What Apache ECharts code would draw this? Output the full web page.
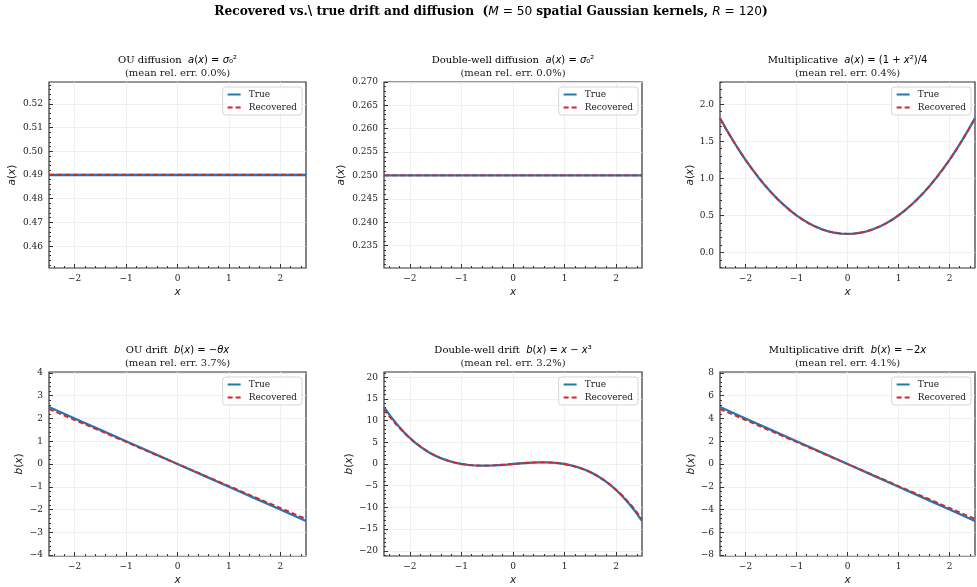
<!DOCTYPE html>
<html>
<head>
<meta charset="utf-8">
<script src="https://cdn.jsdelivr.net/npm/echarts@6/dist/echarts.min.js"></script>
<style>html,body{margin:0;padding:0;background:#fff;}#c{width:977px;height:587px;}</style>
</head>
<body>
<div id="c"></div>
<script>
// ---------------- data ----------------
const xCoarse = [-2.5, -2, -1.5, -1, -0.5, 0, 0.5, 1, 1.5, 2, 2.5];
const xFine = [-2.5, -2.375, -2.25, -2.125, -2, -1.875, -1.75, -1.625, -1.5, -1.375, -1.25, -1.125, -1,
  -0.875, -0.75, -0.625, -0.5, -0.375, -0.25, -0.125, 0, 0.125, 0.25, 0.375, 0.5, 0.625, 0.75, 0.875,
  1, 1.125, 1.25, 1.375, 1.5, 1.625, 1.75, 1.875, 2, 2.125, 2.25, 2.375, 2.5];

const ouDiffTrue = [0.49, 0.49, 0.49, 0.49, 0.49, 0.49, 0.49, 0.49, 0.49, 0.49, 0.49];
const ouDiffRec  = [0.4901, 0.4901, 0.4901, 0.4901, 0.4901, 0.4901, 0.4901, 0.4901, 0.4901, 0.4901, 0.4901];

const dwDiffTrue = [0.25, 0.25, 0.25, 0.25, 0.25, 0.25, 0.25, 0.25, 0.25, 0.25, 0.25];
const dwDiffRec  = [0.25, 0.25, 0.25, 0.25, 0.25, 0.25, 0.25, 0.25, 0.25, 0.25, 0.25];

const mulDiffTrue = [1.8125, 1.6602, 1.5156, 1.3789, 1.25, 1.1289, 1.0156, 0.9102, 0.8125, 0.7227, 0.6406,
  0.5664, 0.5, 0.4414, 0.3906, 0.3477, 0.3125, 0.2852, 0.2656, 0.2539, 0.25, 0.2539, 0.2656, 0.2852,
  0.3125, 0.3477, 0.3906, 0.4414, 0.5, 0.5664, 0.6406, 0.7227, 0.8125, 0.9102, 1.0156, 1.1289, 1.25,
  1.3789, 1.5156, 1.6602, 1.8125];
const mulDiffRec = [1.805, 1.655, 1.513, 1.378, 1.251, 1.131, 1.018, 0.912, 0.814, 0.724, 0.641,
  0.566, 0.499, 0.440, 0.389, 0.346, 0.311, 0.284, 0.265, 0.254, 0.251, 0.254, 0.266, 0.286,
  0.313, 0.348, 0.391, 0.442, 0.501, 0.567, 0.641, 0.722, 0.811, 0.909, 1.014, 1.127, 1.248,
  1.377, 1.514, 1.659, 1.810];

const ouDriftTrue = [2.5, 2, 1.5, 1, 0.5, 0, -0.5, -1, -1.5, -2, -2.5];
const ouDriftRec  = [2.41, 1.93, 1.45, 0.965, 0.48, 0, -0.48, -0.965, -1.45, -1.93, -2.41];

const dwDriftTrue = [13.125, 11.021, 9.141, 7.471, 6.0, 4.717, 3.609, 2.666, 1.875, 1.225, 0.703,
  0.299, 0, -0.205, -0.328, -0.381, -0.375, -0.322, -0.234, -0.123, 0, 0.123, 0.234, 0.322, 0.375,
  0.381, 0.328, 0.205, 0, -0.299, -0.703, -1.225, -1.875, -2.666, -3.609, -4.717, -6.0, -7.471,
  -9.141, -11.021, -13.125];
const dwDriftRec = [12.6, 10.65, 8.9, 7.33, 5.93, 4.69, 3.6, 2.67, 1.89, 1.24, 0.72,
  0.31, 0.01, -0.2, -0.33, -0.38, -0.37, -0.32, -0.23, -0.12, 0, 0.12, 0.23, 0.32, 0.37,
  0.38, 0.33, 0.2, -0.01, -0.31, -0.72, -1.24, -1.89, -2.67, -3.6, -4.69, -5.93, -7.33,
  -8.9, -10.68, -12.7];

const mulDriftTrue = [5, 4, 3, 2, 1, 0, -1, -2, -3, -4, -5];
const mulDriftRec  = [4.82, 3.86, 2.89, 1.93, 0.96, 0, -0.96, -1.93, -2.89, -3.86, -4.82];

const xTicks = [-2, -1, 0, 1, 2];
const yTicksOuDiff = [0.46, 0.47, 0.48, 0.49, 0.50, 0.51, 0.52];
const yTicksDwDiff = [0.235, 0.240, 0.245, 0.250, 0.255, 0.260, 0.265, 0.270];
const yTicksMulDiff = [0.0, 0.5, 1.0, 1.5, 2.0];
const yTicksOuDrift = [-4, -3, -2, -1, 0, 1, 2, 3, 4];
const yTicksDwDrift = [-20, -15, -10, -5, 0, 5, 10, 15, 20];
const yTicksMulDrift = [-8, -6, -4, -2, 0, 2, 4, 6, 8];

const titles = [
  ['OU diffusion  ', '{i|a}{m|(}{i|x}{m|) = }{i|σ}{m|₀²}', '(mean rel. err. 0.0%)'],
  ['Double-well diffusion  ', '{i|a}{m|(}{i|x}{m|) = }{i|σ}{m|₀²}', '(mean rel. err. 0.0%)'],
  ['Multiplicative  ', '{i|a}{m|(}{i|x}{m|) = (1 + }{i|x}{m|²)/4}', '(mean rel. err. 0.4%)'],
  ['OU drift  ', '{i|b}{m|(}{i|x}{m|) = −}{i|θx}', '(mean rel. err. 3.7%)'],
  ['Double-well drift  ', '{i|b}{m|(}{i|x}{m|) = }{i|x}{m| − }{i|x}{m|³}', '(mean rel. err. 3.2%)'],
  ['Multiplicative drift  ', '{i|b}{m|(}{i|x}{m|) = −2}{i|x}', '(mean rel. err. 4.1%)']
];

// ---------------- layout / style ----------------
const SERIF = 'DejaVu Serif';
const SANS = 'DejaVu Sans';
const grids = [
  {left: 49, top: 82, width: 257, height: 186},
  {left: 384, top: 82, width: 258, height: 186},
  {left: 720, top: 82, width: 255, height: 186},
  {left: 49, top: 372, width: 257, height: 187},
  {left: 384, top: 372, width: 258, height: 187},
  {left: 720, top: 372, width: 255, height: 187}
];
const panels = [
  {x: xCoarse, t: ouDiffTrue, r: ouDiffRec, yMin: 0.4508, yMax: 0.5292, ticks: yTicksOuDiff, step: 0.01, dec: 2, yname: 'a', gap: 31},
  {x: xCoarse, t: dwDiffTrue, r: dwDiffRec, yMin: 0.2302, yMax: 0.2700, ticks: yTicksDwDiff, step: 0.005, dec: 3, yname: 'a', gap: 37},
  {x: xFine, t: mulDiffTrue, r: mulDiffRec, yMin: -0.21, yMax: 2.30, ticks: yTicksMulDiff, step: 0.5, dec: 1, yname: 'a', gap: 24},
  {x: xCoarse, t: ouDriftTrue, r: ouDriftRec, yMin: -4.04, yMax: 4.04, ticks: yTicksOuDrift, step: 1, dec: 0, yname: 'b', gap: 24},
  {x: xFine, t: dwDriftTrue, r: dwDriftRec, yMin: -21.2, yMax: 21.2, ticks: yTicksDwDrift, step: 5, dec: 0, yname: 'b', gap: 29},
  {x: xCoarse, t: mulDriftTrue, r: mulDriftRec, yMin: -8.08, yMax: 8.08, ticks: yTicksMulDrift, step: 2, dec: 0, yname: 'b', gap: 23}
];

function minors(min, max, step) {
  const out = [];
  const s = Math.ceil(min / step - 1e-9);
  for (let k = s; k * step <= max + 1e-9; k++) out.push(+(k * step).toFixed(6));
  return out;
}
function fmt(dec) {
  return v => {
    const s = (+v).toFixed(dec);
    return s.replace('-', '\u2212');
  };
}
const mathRich = {
  i: {fontFamily: SANS, fontStyle: 'italic', fontSize: 10.5, color: '#222'},
  m: {fontFamily: SANS, fontSize: 10.5, color: '#222'}
};
const tickStyle = {color: '#333', width: 1};
const labelStyle = {fontFamily: SERIF, fontSize: 9, color: '#222'};

const xAxes = [], yAxes = [], series = [], legends = [], graphics = [];

panels.forEach((p, i) => {
  const g = grids[i];
  xAxes.push({
    type: 'value', gridIndex: i, min: -2.5, max: 2.5, position: 'bottom',
    axisLine: {show: false, onZero: false},
    axisTick: {show: true, inside: true, length: 4, lineStyle: tickStyle, customValues: xTicks},
    axisLabel: Object.assign({customValues: xTicks, formatter: fmt(0), margin: 6}, labelStyle),
    splitLine: {show: true, lineStyle: {color: '#ececec', width: 0.8}},
    name: '{i|x}', nameLocation: 'middle', nameGap: 19,
    nameTextStyle: {rich: mathRich}
  });
  xAxes.push({
    type: 'value', gridIndex: i, min: -2.5, max: 2.5, position: 'bottom',
    axisLine: {show: false, onZero: false},
    axisTick: {show: true, inside: true, length: 2, lineStyle: tickStyle, customValues: minors(-2.5, 2.5, 0.2)},
    axisLabel: {show: false}, splitLine: {show: false}
  });
  yAxes.push({
    type: 'value', gridIndex: i, min: p.yMin, max: p.yMax, position: 'left',
    axisLine: {show: false, onZero: false},
    axisTick: {show: true, inside: true, length: 4, lineStyle: tickStyle, customValues: p.ticks},
    axisLabel: Object.assign({customValues: p.ticks, formatter: fmt(p.dec), margin: 6}, labelStyle),
    splitLine: {show: true, lineStyle: {color: '#ececec', width: 0.8}},
    name: '{i|' + p.yname + '}{m|(}{i|x}{m|)}', nameLocation: 'middle', nameGap: p.gap,
    nameTextStyle: {rich: mathRich}
  });
  yAxes.push({
    type: 'value', gridIndex: i, min: p.yMin, max: p.yMax, position: 'left',
    axisLine: {show: false, onZero: false},
    axisTick: {show: true, inside: true, length: 2, lineStyle: tickStyle, customValues: minors(p.yMin, p.yMax, p.step / 5)},
    axisLabel: {show: false}, splitLine: {show: false}
  });
  series.push({
    type: 'line', name: 'True', xAxisIndex: 2 * i, yAxisIndex: 2 * i,
    data: p.x.map((v, j) => [v, p.t[j]]),
    symbol: 'none', showSymbol: false, z: 3,
    lineStyle: {color: '#1f77b4', width: 2.3}, itemStyle: {color: '#1f77b4'}
  });
  series.push({
    type: 'line', name: 'Recovered', xAxisIndex: 2 * i, yAxisIndex: 2 * i,
    data: p.x.map((v, j) => [v, p.r[j]]),
    symbol: 'none', showSymbol: false, z: 4,
    lineStyle: {color: '#d62728', width: 1.8, type: [5, 3]}, itemStyle: {color: '#d62728'}
  });
  legends.push({
    orient: 'vertical', right: 977 - (g.left + g.width - 4), top: g.top + 5,
    data: ['True', 'Recovered'], itemWidth: 13, itemHeight: 10, itemGap: 4,
    padding: [3, 5, 3, 4], borderColor: '#cccccc', borderWidth: 0.8, borderRadius: 3,
    backgroundColor: 'rgba(255,255,255,0.85)',
    itemStyle: {opacity: 0},
    textStyle: {fontFamily: SERIF, fontSize: 9, color: '#222', padding: [0, 0, 0, 3]},
    selectedMode: false
  });
  const cx = g.left + g.width / 2;
  graphics.push({
    type: 'text', x: cx, y: g.top - 22, z: 10,
    style: {
      text: '{t|' + titles[i][0] + '}' + titles[i][1], textAlign: 'center', textVerticalAlign: 'middle',
      rich: Object.assign({t: {fontFamily: SERIF, fontSize: 10, color: '#222'}}, {
        i: {fontFamily: SANS, fontStyle: 'italic', fontSize: 10, color: '#222'},
        m: {fontFamily: SANS, fontSize: 10, color: '#222'}
      })
    }
  });
  graphics.push({
    type: 'text', x: cx, y: g.top - 9, z: 10,
    style: {text: titles[i][2], font: '10px "DejaVu Serif"', fill: '#222', textAlign: 'center', textVerticalAlign: 'middle'}
  });
});

graphics.push({
  type: 'text', x: 491, y: 12, z: 10,
  style: {
    text: '{b|Recovered vs.\\ true drift and diffusion  (}{i|M}{s| = 50 }{b|spatial Gaussian kernels, }{i|R}{s| = 120}{b|)}',
    textAlign: 'center', textVerticalAlign: 'middle',
    rich: {
      b: {fontFamily: SERIF, fontWeight: 'bold', fontSize: 12.2, color: '#111'},
      i: {fontFamily: SANS, fontStyle: 'italic', fontSize: 12.2, color: '#111'},
      s: {fontFamily: SANS, fontSize: 12.2, color: '#111'}
    }
  }
});

const option = {
  animation: false,
  backgroundColor: '#ffffff',
  grid: grids.map(g => Object.assign({show: true, borderColor: '#333', borderWidth: 1.2, backgroundColor: 'transparent', containLabel: false}, g)),
  xAxis: xAxes,
  yAxis: yAxes,
  legend: legends,
  series: series,
  graphic: graphics
};
const chart = echarts.init(document.getElementById('c'), null, {renderer: 'canvas'});
chart.setOption(option);
</script>
</body>
</html>
